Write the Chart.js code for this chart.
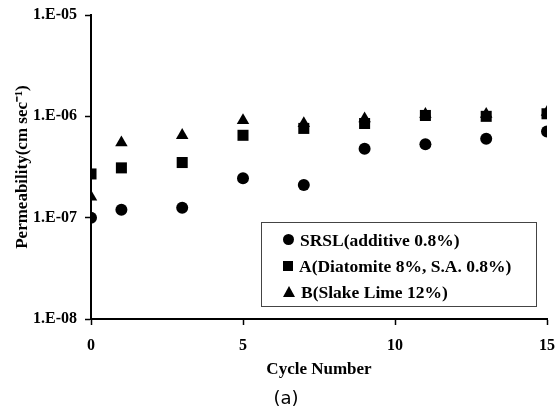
<!DOCTYPE html>
<html>
<head>
<meta charset="utf-8">
<script src="https://cdn.jsdelivr.net/npm/chart.js@4.4.1/dist/chart.umd.min.js"></script>
<style>
  body { margin: 0; background: #fff; }
  #wrap { position: relative; width: 558px; height: 414px; }
  #legendBox {
    position: absolute; left: 261px; top: 222px; width: 276px; height: 85px;
    border: 1px solid #444; box-sizing: border-box;
    font: bold 17.5px "Liberation Serif", serif; color: #000;
    padding: 4px 0 0 21px;
  }
  .row { height: 26px; line-height: 26px; white-space: nowrap; }
  .mk { display: inline-block; margin-right: 6px; vertical-align: middle; position: relative; top: -2px; }
  .circle { width: 11px; height: 11px; border-radius: 50%; background: #000; }
  .rect { width: 10px; height: 10px; background: #000; }
  .triangle { width: 0; height: 0; border-left: 6px solid transparent; border-right: 6px solid transparent; border-bottom: 11px solid #000; }
</style>
</head>
<body>
<div id="wrap">
  <canvas id="chart" width="558" height="414"></canvas>
  <div id="legendBox"></div>
</div>
<script>
// data
const cycles = [0, 1, 3, 5, 7, 9, 11, 13, 15];
const srsl      = [1.0e-7, 1.2e-7, 1.25e-7, 2.45e-7, 2.1e-7, 4.8e-7, 5.3e-7, 6.0e-7, 7.1e-7];
const diatomite = [2.7e-7, 3.1e-7, 3.5e-7, 6.5e-7, 7.6e-7, 8.5e-7, 1.02e-6, 1.0e-6, 1.06e-6];
const lime      = [1.6e-7, 5.5e-7, 6.5e-7, 9.1e-7, 8.5e-7, 9.5e-7, 1.05e-6, 1.05e-6, 1.1e-6];

const seriesNames = ["SRSL(additive 0.8%)", "A(Diatomite 8%, S.A. 0.8%)", "B(Slake Lime 12%)"];
const yTicks = [1e-8, 1e-7, 1e-6, 1e-5];
const xTicks = [0, 5, 10, 15];

function pts(arr){
  return cycles.map((c, i) => ({ x: c, y: arr[i] }));
}

const serif = "'Liberation Serif', 'Times New Roman', serif";

/* caption under the chart */
const caption = {
  id: "caption",
  afterDraw(chart){
    const c = chart.ctx;
    c.save();
    c.fillStyle = "#000";
    c.font = "18px 'DejaVu Sans', sans-serif";
    c.textAlign = "center";
    c.textBaseline = "middle";
    c.fillText("(a)", 286, 399);
    c.restore();
  }
};

const chart = new Chart(document.getElementById("chart"), {
  type: "scatter",
  data: {
    datasets: [
      { label: seriesNames[0], data: pts(srsl), pointStyle: "circle", pointRadius: 6,
        backgroundColor: "#000", borderColor: "#000", borderWidth: 0 },
      { label: seriesNames[1], data: pts(diatomite), pointStyle: "rect", pointRadius: 7.8,
        backgroundColor: "#000", borderColor: "#000", borderWidth: 0 },
      { label: seriesNames[2], data: pts(lime), pointStyle: "triangle", pointRadius: 7.2,
        backgroundColor: "#000", borderColor: "#000", borderWidth: 0 }
    ]
  },
  options: {
    responsive: false,
    animation: false,
    layout: { padding: { top: 15, right: 11, bottom: 29, left: 0 } },
    plugins: { legend: { display: false }, tooltip: { enabled: false } },
    scales: {
      x: {
        type: "linear", min: 0, max: 15,
        afterFit(s){ s.height = 66; s.paddingLeft = 0; s.paddingRight = 0; },
        afterBuildTicks(s){ s.ticks = xTicks.map(v => ({ value: v })); },
        border: { display: true, color: "#000", width: 2 },
        grid: { drawOnChartArea: false, drawTicks: true, tickLength: 6, tickWidth: 1.5, tickColor: "#000" },
        ticks: { color: "#000", font: { family: serif, size: 16, weight: "bold" }, padding: 11, maxRotation: 0 },
        title: { display: true, text: "Cycle Number", color: "#000",
                 font: { family: serif, size: 17, weight: "bold" }, padding: { bottom: 5 } }
      },
      y: {
        type: "logarithmic", min: 1e-8, max: 1e-5,
        afterFit(s){ s.width = 91; s.paddingTop = 0; s.paddingBottom = 0; },
        afterBuildTicks(s){ s.ticks = yTicks.map(v => ({ value: v })); },
        border: { display: true, color: "#000", width: 2 },
        grid: { drawOnChartArea: false, drawTicks: true, tickLength: 6, tickWidth: 1.5, tickColor: "#000" },
        ticks: {
          color: "#000", font: { family: serif, size: 16, weight: "bold" }, padding: 8,
          callback: v => "1.E-" + String(-Math.round(Math.log10(v))).padStart(2, "0")
        },
        title: { display: true, text: "Permeability(cm sec\u207B\u00B9)", color: "#000",
                 font: { family: serif, size: 17, weight: "bold" }, padding: { top: 12 } }
      }
    }
  },
  plugins: [caption]
});

/* legend box inside the plot, built from the datasets */
const legendBox = document.getElementById("legendBox");
chart.data.datasets.forEach(ds => {
  const row = document.createElement("div");
  row.className = "row";
  const mk = document.createElement("span");
  mk.className = "mk " + ds.pointStyle;
  row.appendChild(mk);
  row.appendChild(document.createTextNode(ds.label));
  legendBox.appendChild(row);
});
</script>
</body>
</html>
